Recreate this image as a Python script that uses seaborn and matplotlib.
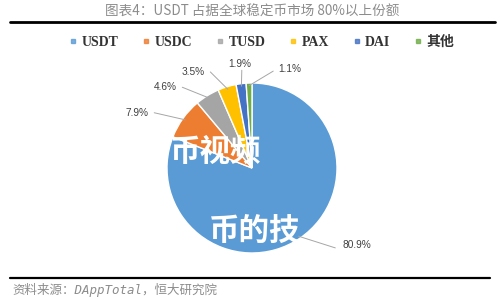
import numpy as np
import matplotlib
matplotlib.use("Agg")
import matplotlib.pyplot as plt
from matplotlib.lines import Line2D
import seaborn as sns

# ---- data ----
categories = ["USDT", "USDC", "TUSD", "PAX", "DAI", "其他"]
shares = [80.9, 7.9, 4.6, 3.5, 1.9, 1.1]
share_labels = ["80.9%", "7.9%", "4.6%", "3.5%", "1.9%", "1.1%"]
colors = ["#5B9BD5", "#ED7D31", "#A5A5A5", "#FFC000", "#4472C4", "#70AD47"]
title = "图表4：USDT 占据全球稳定币市场 80%以上份额"
source = "资料来源：DAppTotal，恒大研究院"

sns.set_theme(style="white")
plt.rcParams["font.family"] = ["DejaVu Sans", "Noto Sans CJK SC"]

W, H = 500, 300
fig = plt.figure(figsize=(5, 3), dpi=100)
ax = fig.add_axes([0, 0, 1, 1])
cx, cy, R = 252, 168, 85

wedges, _ = ax.pie(shares, colors=colors, startangle=90, counterclock=False,
                   radius=1.0, center=(0, 0),
                   wedgeprops=dict(edgecolor="white", linewidth=1.0),
                   frame=False)
ax.set_xlim(-cx / R, (W - cx) / R)
ax.set_ylim(-(H - cy) / R, cy / R)
ax.set_aspect("auto")
ax.axis("off")

# label layout (text positions in data units, line end offsets)
text_pos = [(1.06, -0.91), (-1.35, 0.65), (-1.02, 0.95), (-0.69, 1.13), (-0.14, 1.22), (0.45, 1.16)]
ha = ["left", "center", "center", "center", "center", "center"]
line_end = [(0.98, -0.94), (-1.15, 0.65), (-0.82, 0.95), (-0.49, 1.13), (-0.12, 1.15), (0.25, 1.14)]
for w, lab, tp, h, le in zip(wedges, share_labels, text_pos, ha, line_end):
    ang = np.deg2rad((w.theta1 + w.theta2) / 2)
    ex, ey = 0.97 * np.cos(ang), 0.97 * np.sin(ang)
    ax.plot([ex, le[0]], [ey, le[1]], color="#A6A6A6", lw=0.7)
    ax.text(tp[0], tp[1], lab, ha=h, va="center", fontsize=7.3,
            color="#404040", family=["Liberation Sans"])

# watermark-like overlay text
ax.text((216 - cx) / R, (cy - 152) / R, "币视频", color="white", fontsize=22,
        fontweight="bold", ha="center", va="center", family=["Noto Sans CJK SC"])
ax.text((255 - cx) / R, (cy - 232) / R, "币的技", color="white", fontsize=22,
        fontweight="bold", ha="center", va="center", family=["Noto Sans CJK SC"])

# title and rules
fig.text(252 / W, 1 - 12 / H, title, ha="center", va="center", fontsize=9.8,
         color="#8C8C8C", family=["Noto Sans CJK SC"])
fig.add_artist(Line2D([10 / W, 495 / W], [1 - 22 / H, 1 - 22 / H], color="black", lw=2.0))
fig.add_artist(Line2D([10 / W, 490 / W], [1 - 278 / H, 1 - 278 / H], color="black", lw=1.6))
fig.text(12 / W, 1 - 290 / H, source, ha="left", va="center", fontsize=9,
         color="#8C8C8C", style="italic", family=["DejaVu Sans Mono", "Noto Sans CJK SC"])

# legend
handles = [Line2D([0], [0], marker="s", linestyle="none", markersize=3.2,
                  markerfacecolor=c, markeredgecolor=c, alpha=0.8) for c in colors]
leg = fig.legend(handles, categories, loc="center", bbox_to_anchor=(262 / W, 1 - 42 / H),
                 ncol=6, frameon=False, handlelength=0.5, handletextpad=0.35,
                 columnspacing=1.75, borderaxespad=0,
                 prop=dict(family=["Liberation Serif", "Noto Sans CJK SC"], weight="bold", size=10))
for t in leg.get_texts():
    t.set_color("#333333")

fig.savefig("out.png", dpi=100)
